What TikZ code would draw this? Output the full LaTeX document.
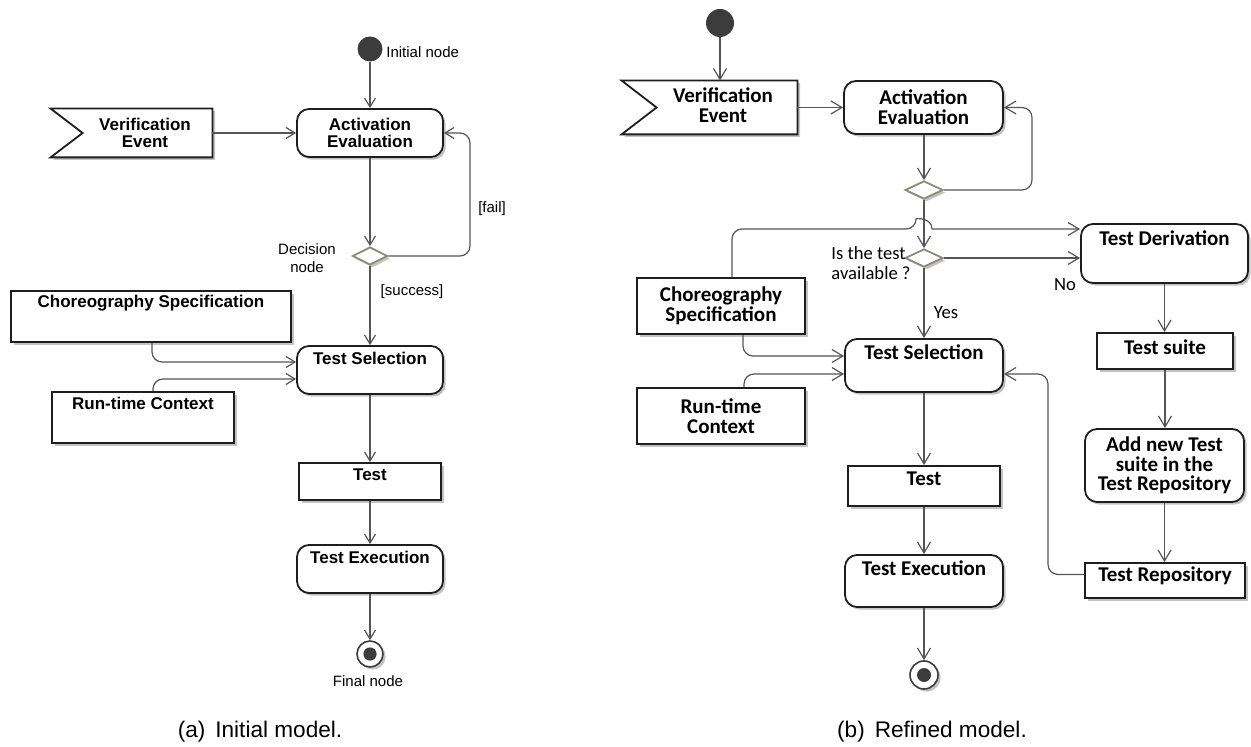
\documentclass[tikz,border=0pt]{standalone}
\usepackage{fontspec}
\setmainfont{Liberation Sans}
\newfontfamily\carlito{Carlito}
\usetikzlibrary{arrows.meta,shapes.geometric,shadows}

\definecolor{linecol}{RGB}{85,85,85}
\definecolor{boxcol}{RGB}{30,30,30}
\definecolor{diacol}{RGB}{140,140,118}
\definecolor{shcol}{RGB}{195,195,195}
\definecolor{dotcol}{RGB}{60,60,60}

\tikzset{
  sz/.style 2 args={minimum width=#1,minimum height=#2},
  shd/.style={drop shadow={shadow xshift=1.3pt,shadow yshift=-1.3pt,fill=shcol,opacity=1}},
  act/.style={draw=boxcol,line width=0.9pt,rounded corners=6pt,fill=white,shd,inner sep=0pt},
  obj/.style={draw=boxcol,line width=0.9pt,fill=white,shd,inner sep=0pt},
  dec/.style={diamond,draw=diacol,line width=0.9pt,fill=white,inner sep=0pt,shd},
  startnode/.style={circle,fill=dotcol,inner sep=0pt},
  endnode/.style={circle,draw=dotcol,line width=0.8pt,fill=white,inner sep=0pt,shd},
  flowA/.style={draw=linecol,line width=0.6pt,rounded corners=5pt,-{Straight Barb[length=4.5pt,width=5.5pt]}},
  flowB/.style={draw=linecol,line width=0.6pt,rounded corners=5pt,-{Straight Barb[length=5.5pt,width=6.5pt]}},
  lt/.style={font=\bfseries\fontsize{8.5}{8.7}\selectfont},
  ll/.style={font=\fontsize{7.5}{8.8}\selectfont,inner sep=0pt},
  rt/.style={font=\carlito\bfseries\fontsize{10.5}{9.8}\selectfont},
  rl/.style={font=\carlito\fontsize{9.3}{10}\selectfont,inner sep=0pt},
  captext/.style={font=\fontsize{11.3}{13}\selectfont,inner sep=0pt},
}

\begin{document}
\begin{tikzpicture}[x=0.5pt,y=-0.5pt]
\useasboundingbox (0,0) rectangle (1251,747);

% ---------------- (a) initial model ----------------
\node[startnode,minimum size=12.5pt] (init1) at (370,49) {};
\node[act,sz={73pt}{24pt},lt,align=center] (ae1) at (370,133) {Activation\\Evaluation};

% accept-event shape with notch on its left side
\node[sz={80.5pt}{24pt},inner sep=0pt] (ve1) at (131.5,133) {};
\fill[shcol] ([xshift=1.3pt,yshift=-1.3pt]ve1.north west) -- ([xshift=1.3pt,yshift=-1.3pt]ve1.north east)
  -- ([xshift=1.3pt,yshift=-1.3pt]ve1.south east) -- ([xshift=1.3pt,yshift=-1.3pt]ve1.south west)
  -- ([xshift=17.3pt,yshift=-1.3pt]ve1.west) -- cycle;
\draw[draw=boxcol,line width=0.9pt,fill=white] (ve1.north west) -- (ve1.north east) -- (ve1.south east)
  -- (ve1.south west) -- ([xshift=16pt]ve1.west) -- cycle;
\node[lt,align=center] (ve1t) at ([xshift=6.75pt]ve1.center) {Verification\\Event};

\node[dec,minimum width=17.5pt,minimum height=9pt,aspect=1.95] (d1) at (370,256) {};

\node[obj,sz={140pt}{25.5pt},label={[lt,anchor=center,yshift=-6.5pt]north:Choreography Specification}] (cs1) at (151,316.5) {};
\node[act,sz={73pt}{24pt},label={[lt,anchor=center,yshift=-6.5pt]north:Test Selection}] (ts1) at (370,370) {};
\node[obj,sz={91pt}{25.5pt},label={[lt,anchor=center,yshift=-6pt]north:Run-time Context}] (rc1) at (143,417.5) {};
\node[obj,sz={71pt}{18.5pt},label={[lt,anchor=center,yshift=-6.5pt]north:Test}] (test1) at (370,481.5) {};
\node[act,sz={73pt}{24pt},label={[lt,anchor=center,yshift=-6.5pt]north:Test Execution}] (te1) at (370,569) {};
\node[endnode,minimum size=13pt] (fin1) at (370,654) {};
\fill[dotcol] (fin1.center) circle[radius=3.3pt];

\draw[flowA] (init1) -- (ae1.north);
\draw[flowA] (ve1.east) -- (ae1.west);
\draw[flowA] (ae1.south) -- (d1.north);
\draw[flowA] (d1.east) -| (470,133) -- (ae1.east);
\draw[flowA] (d1.south) -- (ts1.north);
\draw[flowA] (cs1.south -| 152,0) |- (ts1.west |- 0,362);
\draw[flowA] (rc1.north -| 153,0) |- (ts1.west |- 0,379);
\draw[flowA] (ts1.south) -- (test1.north);
\draw[flowA] (test1.south) -- (te1.north);
\draw[flowA] (te1.south) -- (fin1.north);

\node[ll,anchor=west] (lblinit) at (386,52) {Initial node};
\node[ll,align=center] (lbldec) at (307,258) {Decision\\node};
\node[ll] (lblfail) at (492,209) {[fail]};
\node[ll] (lblsucc) at (412,292) {[success]};
\node[ll] (lblfin) at (368,681) {Final node};

\node[captext] (capa) at (260,732) {(a)\hspace{5pt}Initial model.};

% ---------------- (b) refined model ----------------
\node[startnode,minimum size=14pt] (init2) at (720,23) {};

\node[sz={87.5pt}{26.5pt},inner sep=0pt] (ve2) at (709.5,107.5) {};
\fill[shcol] ([xshift=1.3pt,yshift=-1.3pt]ve2.north west) -- ([xshift=1.3pt,yshift=-1.3pt]ve2.north east)
  -- ([xshift=1.3pt,yshift=-1.3pt]ve2.south east) -- ([xshift=1.3pt,yshift=-1.3pt]ve2.south west)
  -- ([xshift=18.8pt,yshift=-1.3pt]ve2.west) -- cycle;
\draw[draw=boxcol,line width=0.9pt,fill=white] (ve2.north west) -- (ve2.north east) -- (ve2.south east)
  -- (ve2.south west) -- ([xshift=17.5pt]ve2.west) -- cycle;
\node[rt,align=center] (ve2t) at (723,105.5) {Verification\\Event};

\node[act,sz={79.5pt}{26.5pt},rt,align=center] (ae2) at (923.5,107.5) {Activation\\Evaluation};
\node[dec,minimum width=19pt,minimum height=9pt,aspect=2.1] (d2a) at (924,190) {};
\node[dec,minimum width=19pt,minimum height=9pt,aspect=2.1] (d2b) at (924,258) {};

\node[act,sz={83.5pt}{29.5pt},label={[rt,anchor=center,yshift=-7.5pt]north:Test Derivation}] (td2) at (1164.5,253.5) {};
\node[obj,sz={84pt}{28pt},rt,align=center] (cs2) at (721,306) {Choreography\\Specification};
\node[act,sz={79pt}{26.5pt},label={[rt,anchor=center,yshift=-7pt]north:Test Selection}] (ts2) at (924,365.5) {};
\node[obj,sz={84pt}{28pt},rt,align=center] (rc2) at (721,416) {Run-time\\Context};
\node[obj,sz={76pt}{20pt},label={[rt,anchor=center,yshift=-7pt]north:Test}] (test2) at (924,486) {};
\node[act,sz={79pt}{26pt},label={[rt,anchor=center,yshift=-7pt]north:Test Execution}] (te2) at (924,581) {};
\node[endnode,minimum size=14pt] (fin2) at (924,675) {};
\fill[dotcol] (fin2.center) circle[radius=3.5pt];

\node[obj,sz={68pt}{18pt},label={[rt,anchor=center,yshift=-7.5pt]north:Test suite}] (tsu2) at (1165,351) {};
\node[act,sz={79.5pt}{36.5pt},rt,align=center] (ant2) at (1164.5,465.5) {Add new Test\\suite in the\\Test Repository};
\node[obj,sz={80pt}{17.5pt},label={[rt,anchor=center,yshift=-7pt]north:Test Repository}] (tr2) at (1165,580.5) {};

\draw[flowB] (init2) -- (ve2.north -| init2);
\draw[flowB] (ve2.east) -- (ae2.west);
\draw[flowB] (ae2.south -| d2a) -- (d2a.north);
\draw[flowB] (d2a.east) -| (1032,107.5) -- (ae2.east);
\draw[flowB] (d2a.south) -- (d2b.north);
% line hops over the vertical flow where the two cross
\draw[flowB] (cs2.north -| 732,0) |- (916,229) [sharp corners]
  .. controls (916,218) and (932,218) .. (932,229) -- (td2.west |- 0,229);
\draw[flowB] (d2b.east) -- (d2b.east -| td2.west);
\draw[flowB] (d2b.south) -- (ts2.north);
\draw[flowB] (cs2.south -| 743,0) |- (ts2.west |- 0,356);
\draw[flowB] (rc2.north -| 744,0) |- (ts2.west |- 0,374);
\draw[flowB] (ts2.south) -- (test2.north);
\draw[flowB] (test2.south) -- (te2.north);
\draw[flowB] (te2.south) -- (fin2.north);
\draw[flowB] (td2.south) -- (tsu2.north -| td2.south);
\draw[flowB] (tsu2.south) -- (ant2.north -| tsu2.south);
\draw[flowB] (ant2.south) -- (tr2.north -| ant2.south);
\draw[flowB] ([yshift=3pt]tr2.west) -| (1048,374) -- (ts2.east |- 0,374);

\node[rl,align=left,anchor=west] (lblq) at (831,263) {Is the test\\available ?};
\node[rl] (lblyes) at (946,313) {Yes};
\node[rl] (lblno) at (1065,285) {No};

\node[captext] (capb) at (932,732) {(b)\hspace{5pt}Refined model.};
\end{tikzpicture}
\end{document}
